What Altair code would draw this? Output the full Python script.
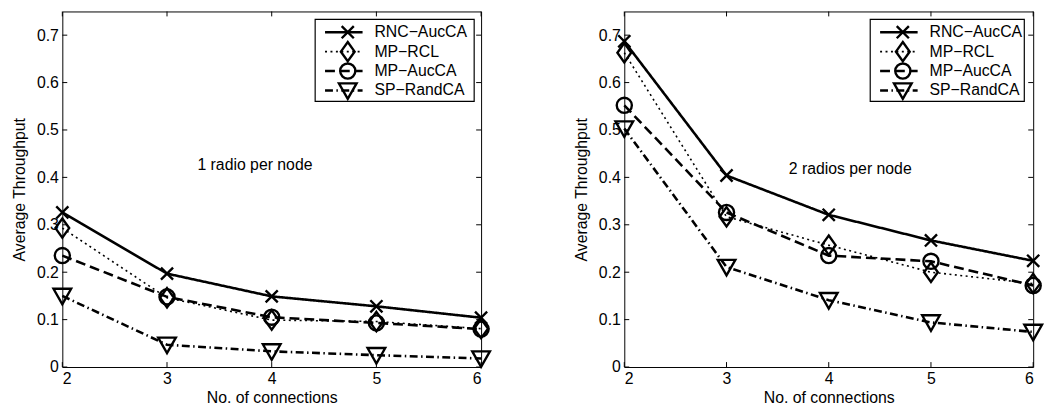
import altair as alt
import pandas as pd

# ---------------- data ----------------
connections = [2, 3, 4, 5, 6]
series = ["RNC\u2212AucCA", "MP\u2212RCL", "MP\u2212AucCA", "SP\u2212RandCA"]

# 1 radio per node
rnc_1 = [0.326, 0.197, 0.149, 0.128, 0.104]
rcl_1 = [0.293, 0.146, 0.099, 0.096, 0.081]
auc_1 = [0.235, 0.148, 0.105, 0.093, 0.080]
sp_1 = [0.150, 0.047, 0.033, 0.025, 0.018]

# 2 radios per node
rnc_2 = [0.687, 0.404, 0.321, 0.267, 0.224]
rcl_2 = [0.663, 0.317, 0.257, 0.200, 0.176]
auc_2 = [0.552, 0.326, 0.235, 0.223, 0.172]
sp_2 = [0.503, 0.211, 0.141, 0.094, 0.074]

x_ticks = [2, 3, 4, 5, 6]
y_ticks = [0, 0.1, 0.2, 0.3, 0.4, 0.5, 0.6, 0.7]

notes = ["1 radio per node", "2 radios per node"]
note_x = [3.84, 4.21]
note_y = [0.425, 0.418]

# ---------------- styles ----------------
FONT = "Liberation Sans"
dashes = [[1, 0], [2, 3.5], [10, 5], [8, 3.5, 1.5, 3.5]]
shapes = [
    "M -0.72 -0.72 L 0.72 0.72 M -0.72 0.72 L 0.72 -0.72",
    "M 0 -1.15 L 0.82 0 L 0 1.15 L -0.82 0 Z",
    "M -0.9 0 A 0.9 0.9 0 1 1 0.9 0 A 0.9 0.9 0 1 1 -0.9 0 Z",
    "M -1.05 -0.85 L 1.05 -0.85 L 0 1.0 Z",
]
H = 360
MSIZE = 290


def long_df(vals):
    rows = []
    for s, v in zip(series, vals):
        for xx, yy in zip(connections, v):
            rows.append({"x": xx, "y": yy, "series": s})
    return pd.DataFrame(rows)


def panel(vals, W, note, nx, ny, box_l, box_r):
    df = long_df(vals)
    xs = alt.Scale(domain=[2, 6], nice=False, zero=False)
    ys = alt.Scale(domain=[0, 0.75], nice=False)
    dash = alt.StrokeDash("series:N", scale=alt.Scale(domain=series, range=dashes), legend=None)
    shp = alt.Shape("series:N", scale=alt.Scale(domain=series, range=shapes), legend=None)

    lines = alt.Chart(df).transform_filter(alt.datum.series != series[1]).mark_line(
        color="black", strokeWidth=2.6).encode(
        x=alt.X("x:Q", scale=xs, axis=alt.Axis(values=x_ticks, format="d", title="No. of connections",
                                               labelPadding=4, titlePadding=3)),
        y=alt.Y("y:Q", scale=ys, axis=alt.Axis(values=y_ticks, format=".1~f", title="Average Throughput",
                                               labelPadding=4, titlePadding=9)),
        strokeDash=dash,
        detail="series:N",
    )
    dots = alt.Chart(df).transform_filter(alt.datum.series == series[1]).mark_line(
        color="black", strokeWidth=1.6).encode(
        x=alt.X("x:Q", scale=xs),
        y=alt.Y("y:Q", scale=ys, axis=None),
        strokeDash=dash,
    )
    pts = alt.Chart(df).mark_point(filled=False, color="black", strokeWidth=2.4, size=MSIZE, opacity=1).encode(
        x=alt.X("x:Q", scale=xs),
        y=alt.Y("y:Q", scale=ys, axis=None),
        shape=shp,
    )
    txt = alt.Chart(pd.DataFrame({"x": [nx], "y": [ny], "t": [note]})).mark_text(
        font=FONT, fontSize=16, color="black"
    ).encode(x=alt.X("x:Q", scale=xs), y=alt.Y("y:Q", scale=ys, axis=None), text="t:N")

    tx = pd.DataFrame({"t": x_ticks})
    ty = pd.DataFrame({"t": y_ticks})
    tk_b = alt.Chart(tx).mark_rule(color="black", strokeWidth=1).encode(
        x=alt.X("t:Q", scale=xs), y=alt.value(H), y2=alt.value(H - 5))
    tk_t = alt.Chart(tx).mark_rule(color="black", strokeWidth=1).encode(
        x=alt.X("t:Q", scale=xs), y=alt.value(0), y2=alt.value(5))
    tk_l = alt.Chart(ty).mark_rule(color="black", strokeWidth=1).encode(
        y=alt.Y("t:Q", scale=ys, axis=None), x=alt.value(0), x2=alt.value(5))
    tk_r = alt.Chart(ty).mark_rule(color="black", strokeWidth=1).encode(
        y=alt.Y("t:Q", scale=ys, axis=None), x=alt.value(W), x2=alt.value(W - 5))

    # legend drawn inside the plot
    ldf = pd.DataFrame({"series": series})
    ly = alt.Y("series:N", scale=alt.Scale(type="point", domain=series, range=[21, 80], padding=0), axis=None)
    box = alt.Chart(ldf.head(1)).mark_rect(fill="white", stroke="black", strokeWidth=1.2).encode(
        x=alt.value(box_l), x2=alt.value(box_r), y=alt.value(8), y2=alt.value(91))
    lseg = alt.Chart(ldf).transform_filter(alt.datum.series != series[1]).mark_rule(
        color="black", strokeWidth=2.6).encode(
        x=alt.value(box_l + 10), x2=alt.value(box_l + 48), y=ly, strokeDash=dash)
    lseg_d = alt.Chart(ldf).transform_filter(alt.datum.series == series[1]).mark_rule(
        color="black", strokeWidth=1.6).encode(
        x=alt.value(box_l + 10), x2=alt.value(box_l + 48), y=ly, strokeDash=dash)
    lpt = alt.Chart(ldf).mark_point(filled=False, color="black", strokeWidth=2.4, size=MSIZE, opacity=1).encode(
        x=alt.value(box_l + 33), y=ly, shape=shp)
    ltx = alt.Chart(ldf).mark_text(font=FONT, fontSize=16, color="black", align="left", baseline="middle").encode(
        x=alt.value(box_l + 60), y=ly, text="series:N")

    return alt.layer(tk_b, tk_t, tk_l, tk_r, lines, dots, pts, txt, box, lseg, lseg_d, lpt, ltx).resolve_scale(
        y="independent").properties(width=W, height=H)


left = panel([rnc_1, rcl_1, auc_1, sp_1], 424, notes[0], note_x[0], note_y[0], 424 - 168, 424 - 7)
right = panel([rnc_2, rcl_2, auc_2, sp_2], 414, notes[1], note_x[1], note_y[1], 414 - 165, 414 - 9)

chart = alt.hconcat(left, right, spacing=78).properties(
    padding={"left": 3, "top": 0, "right": 0, "bottom": 0}
).configure_view(stroke="black", strokeWidth=1).configure_axis(
    labelFont=FONT, titleFont=FONT, labelFontSize=16, titleFontSize=16, titleFontWeight="normal",
    labelColor="black", titleColor="black", tickSize=0, domain=False, grid=False
)

chart.save("out.html", embed_options={"renderer": "svg", "actions": False})
